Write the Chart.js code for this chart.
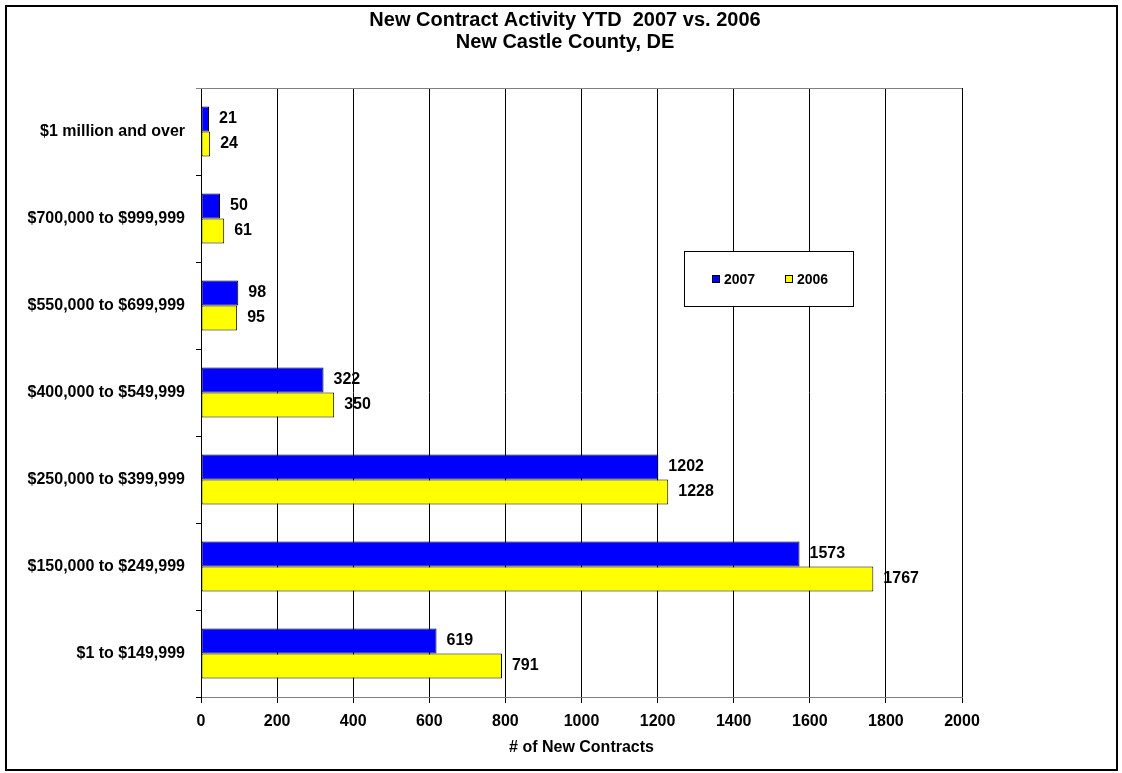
<!DOCTYPE html>
<html>
<head>
<meta charset="utf-8">
<script src="https://cdn.jsdelivr.net/npm/chart.js@4"></script>
<style>
  html, body { margin: 0; padding: 0; background: #fff; }
  canvas { display: block; }
</style>
</head>
<body>
<canvas id="myChart" width="1122" height="773"></canvas>
<script>
const labels = [
  '$1 million and over',
  '$700,000 to $999,999',
  '$550,000 to $699,999',
  '$400,000 to $549,999',
  '$250,000 to $399,999',
  '$150,000 to $249,999',
  '$1 to $149,999',
];
const seriesNames = ['2007', '2006'];
const values2007 = [21, 50, 98, 322, 1202, 1573, 619];
const values2006 = [24, 61, 95, 350, 1228, 1767, 791];
const xTicks = [0, 200, 400, 600, 800, 1000, 1200, 1400, 1600, 1800, 2000];
const titleLines = ['New Contract Activity YTD  2007 vs. 2006', 'New Castle County, DE'];

const FONT = '"Liberation Sans", Arial, sans-serif';

// values printed at the end of each bar
const barLabels = {
  id: 'barLabels',
  afterDatasetsDraw(chart) {
    const ctx = chart.ctx;
    ctx.save();
    ctx.font = 'bold 16px ' + FONT;
    ctx.fillStyle = '#000';
    ctx.textAlign = 'left';
    ctx.textBaseline = 'middle';
    chart.data.datasets.forEach((ds, i) => {
      chart.getDatasetMeta(i).data.forEach((bar, j) => {
        ctx.fillText(ds.data[j], bar.x + 10, bar.y);
      });
    });
    ctx.restore();
  }
};

// outer frame, title, top edge of plot and the boxed legend
const frame = {
  id: 'frame',
  afterDraw(chart) {
    const ctx = chart.ctx;
    const a = chart.chartArea;
    ctx.save();
    ctx.strokeStyle = '#808080';
    ctx.lineWidth = 1;
    ctx.beginPath();
    ctx.moveTo(a.left - 5, a.top + 0.5);
    ctx.lineTo(a.right, a.top + 0.5);
    ctx.stroke();

    ctx.strokeStyle = '#000';
    ctx.lineWidth = 2;
    ctx.strokeRect(6, 6, 1111, 764);

    // title (centred on the page area, not the plot)
    ctx.fillStyle = '#000';
    ctx.font = 'bold 20px ' + FONT;
    ctx.textAlign = 'center';
    ctx.textBaseline = 'middle';
    titleLines.forEach((t, i) => ctx.fillText(t, 565, 20 + i * 22));

    // legend
    ctx.textAlign = 'left';
    ctx.lineWidth = 1;
    ctx.fillStyle = '#fff';
    ctx.fillRect(684.5, 251.5, 169, 55);
    ctx.strokeStyle = '#000';
    ctx.strokeRect(684.5, 251.5, 169, 55);
    ctx.font = 'bold 14px ' + FONT;
    const xs = [712, 785];
    chart.data.datasets.forEach((ds, i) => {
      ctx.fillStyle = ds.backgroundColor;
      ctx.fillRect(xs[i] + 0.5, 275.5, 7, 7);
      ctx.strokeRect(xs[i] + 0.5, 275.5, 7, 7);
      ctx.fillStyle = '#000';
      ctx.fillText(ds.label, xs[i] + 12, 280);
    });
    ctx.restore();
  }
};

const data = {
  labels: labels,
  datasets: [{
    label: seriesNames[0],
    data: values2007,
    backgroundColor: '#0000FF',
    borderColor: '#000',
    borderWidth: 1,
    borderSkipped: false,
    barPercentage: 1.0,
    categoryPercentage: 0.575,
  }, {
    label: seriesNames[1],
    data: values2006,
    backgroundColor: '#FFFF00',
    borderColor: '#000',
    borderWidth: 1,
    borderSkipped: false,
    barPercentage: 1.0,
    categoryPercentage: 0.575,
  }]
};

const config = {
  type: 'bar',
  data: data,
  options: {
    indexAxis: 'y',
    responsive: false,
    animation: false,
    layout: { padding: { top: 88, left: 0, right: 160, bottom: 0 } },
    plugins: {
      legend: { display: false },
      tooltip: { enabled: false },
      title: { display: false }
    },
    scales: {
      x: {
        min: 0,
        max: 2000,
        afterBuildTicks(scale) { scale.ticks = xTicks.map(v => ({ value: v })); },
        afterFit(scale) { scale.height = 76; },
        grid: { color: '#000', tickLength: 6, tickColor: '#000' },
        border: { color: '#808080' },
        ticks: {
          color: '#000',
          padding: 9,
          font: { family: FONT, size: 16, weight: 'bold' },
          callback: v => String(v)
        },
        title: {
          display: true,
          text: '# of New Contracts',
          color: '#000',
          font: { family: FONT, size: 16, weight: 'bold' },
          padding: { top: 0, bottom: 16 }
        }
      },
      y: {
        afterFit(scale) { scale.width = 201; },
        grid: { drawOnChartArea: false, tickLength: 5, tickColor: '#000', offset: true },
        border: { color: '#000' },
        ticks: { color: '#000', padding: 11, font: { family: FONT, size: 16, weight: 'bold' } }
      }
    }
  },
  plugins: [barLabels, frame]
};

const ctx = document.getElementById('myChart');
const myChart = new Chart(ctx, config);
</script>
</body>
</html>
